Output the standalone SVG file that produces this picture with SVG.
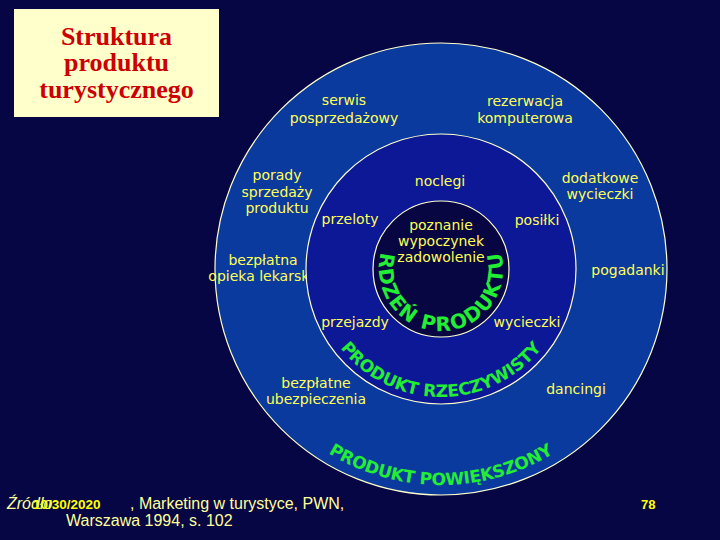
<svg xmlns="http://www.w3.org/2000/svg" width="720" height="540" viewBox="0 0 720 540">
<style>
.lbl{font-family:"DejaVu Sans",Verdana,sans-serif;font-size:14px;fill:#ffff55;text-anchor:middle}
.arc{font-family:"DejaVu Sans",sans-serif;font-weight:bold;fill:#22ee33}
.ring{stroke:#ffffcc;stroke-width:1.2}
.title{font-family:"Liberation Serif","Times New Roman",serif;font-weight:bold;font-size:26px;fill:#cc0000;text-anchor:middle}
.foot{font-family:"Liberation Sans",Arial,sans-serif;font-size:16px;fill:#ffff99}
</style>
<defs>
<path id="pInner" d="M397.16,225.16 A62,62 0 1 0 484.84,225.16"/>
<path id="pMid" d="M350.49,178.49 A128,128 0 1 0 531.51,178.49"/>
<path id="pOuter" d="M288.26,116.26 A216,216 0 1 0 593.74,116.26"/>
</defs>
<rect width="720" height="540" fill="#070644"/>
<g id="title">
<rect x="14" y="9" width="205" height="108" fill="#ffffcc"/>
<text class="title" x="116.5" y="45">Struktura</text>
<text class="title" x="116.5" y="71">produktu</text>
<text class="title" x="116.5" y="98">turystycznego</text>
</g>
<g id="produkt-powiekszony">
<circle class="ring" cx="441" cy="269" r="226" fill="#0b3a9e"/>
<text class="arc" font-size="17"><textPath href="#pOuter" startOffset="50%" text-anchor="middle" textLength="237" lengthAdjust="spacing">PRODUKT POWIĘKSZONY</textPath></text>
<text class="lbl" x="344" y="105">serwis</text>
<text class="lbl" x="344" y="123">posprzedażowy</text>
<text class="lbl" x="525" y="106">rezerwacja</text>
<text class="lbl" x="525" y="123">komputerowa</text>
<text class="lbl" x="277" y="180">porady</text>
<text class="lbl" x="277" y="197">sprzedaży</text>
<text class="lbl" x="277" y="213">produktu</text>
<text class="lbl" x="600" y="183">dodatkowe</text>
<text class="lbl" x="600" y="199">wycieczki</text>
<text class="lbl" x="263" y="265">bezpłatna</text>
<text class="lbl" x="263" y="281">opieka lekarska</text>
<text class="lbl" x="628" y="275">pogadanki</text>
<text class="lbl" x="316" y="388">bezpłatne</text>
<text class="lbl" x="316" y="404">ubezpieczenia</text>
<text class="lbl" x="576" y="394">dancingi</text>
</g>
<g id="produkt-rzeczywisty">
<circle class="ring" cx="441" cy="269" r="135" fill="#0c1896"/>
<text class="arc" font-size="17"><textPath href="#pMid" startOffset="50%" text-anchor="middle" textLength="232" lengthAdjust="spacing">PRODUKT RZECZYWISTY</textPath></text>
<text class="lbl" x="440" y="186">noclegi</text>
<text class="lbl" x="350" y="224">przeloty</text>
<text class="lbl" x="537" y="225">posiłki</text>
<text class="lbl" x="355" y="327">przejazdy</text>
<text class="lbl" x="527" y="327">wycieczki</text>
</g>
<g id="rdzen-produktu">
<circle class="ring" cx="441" cy="269" r="68" fill="#070642"/>
<text class="arc" font-size="20"><textPath href="#pInner" startOffset="50%" text-anchor="middle" textLength="228" lengthAdjust="spacing">RDZEŃ PRODUKTU</textPath></text>
<text class="lbl" x="441" y="230">poznanie</text>
<text class="lbl" x="441" y="246">wypoczynek</text>
<text class="lbl" x="441" y="262">zadowolenie</text>
</g>
<g id="connectors"></g>
<g id="footer">
<text class="foot" x="7" y="509" font-style="italic">Źródło:</text>
<text class="foot" x="130" y="509">, Marketing w turystyce, PWN,</text>
<text class="foot" x="66" y="526">Warszawa 1994, s. 102</text>
<text x="33" y="509" font-family="Liberation Sans,Arial,sans-serif" font-weight="bold" font-size="13.5" fill="#ffff00">10/30/2020</text>
<text x="641" y="509" font-family="Liberation Sans,Arial,sans-serif" font-weight="bold" font-size="13" fill="#ffff00">78</text>
</g>
</svg>
